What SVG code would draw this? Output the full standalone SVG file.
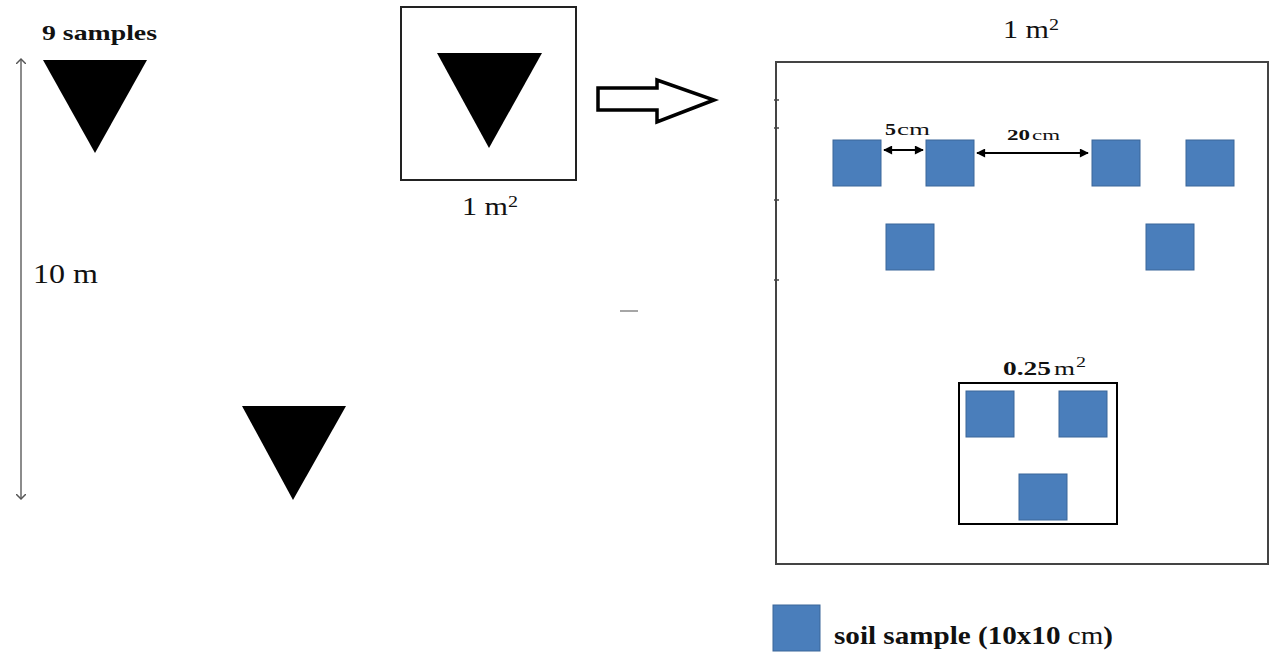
<svg xmlns="http://www.w3.org/2000/svg" width="1279" height="653" viewBox="0 0 1279 653">
<style>
.ser{font-family:"Liberation Serif","Times New Roman",serif;fill:#111}
.b{font-weight:bold}
.sq{fill:#4a7ebb;stroke:#3b6699;stroke-width:1}
.tri{fill:#000}
.box{fill:#fff;stroke:#222;stroke-width:2}
</style>
<defs>
<marker id="open" viewBox="0 0 10 10" refX="5" refY="5" markerWidth="10" markerHeight="10" orient="auto-start-reverse" markerUnits="userSpaceOnUse">
<path d="M0,0 L5,5 L0,10" fill="none" stroke="#555" stroke-width="1.5"/>
</marker>
<marker id="fill" viewBox="0 0 10 10" refX="9" refY="5" markerWidth="10" markerHeight="9" orient="auto-start-reverse" markerUnits="userSpaceOnUse">
<path d="M0,0 L10,5 L0,10 Z" fill="#000"/>
</marker>
</defs>
<rect width="1279" height="653" fill="#fff"/>

<g id="left-scale">
<line x1="21" y1="59" x2="21" y2="499" stroke="#666" stroke-width="1.5" marker-start="url(#open)" marker-end="url(#open)"/>
<text class="ser" x="33" y="283" font-size="28" textLength="65" lengthAdjust="spacingAndGlyphs">10 m</text>
</g>
<g id="samples-label"><text class="ser b" x="42" y="40" font-size="22" textLength="115" lengthAdjust="spacingAndGlyphs">9 samples</text></g>
<g id="triangle-1"><polygon class="tri" points="43,60 147,60 95,153"/></g>
<g id="triangle-2"><polygon class="tri" points="242,406 346,406 293,500"/></g>

<g id="plot-small">
<rect class="box" x="401" y="7" width="175" height="173"/>
<polygon class="tri" points="437,53 542,53 489,148"/>
<text class="ser" x="462" y="215" font-size="25" textLength="46" lengthAdjust="spacingAndGlyphs">1 m</text>
<text class="ser" x="508" y="207" font-size="16" textLength="10" lengthAdjust="spacingAndGlyphs">2</text>
</g>

<g id="block-arrow">
<polygon points="598,88 657,88 657,80 714,100 657,122 657,110 598,110" fill="#fff" stroke="#000" stroke-width="3.5" stroke-linejoin="miter"/>
</g>

<g id="dash"><line x1="620" y1="311" x2="638" y2="311" stroke="#888" stroke-width="1.5"/></g>

<g id="plot-large">
<rect x="776" y="62" width="492" height="502" fill="#fff" stroke="#444" stroke-width="2"/>
<g stroke="#444" stroke-width="1.5">
<line x1="774" y1="100" x2="779" y2="100"/>
<line x1="774" y1="128" x2="779" y2="128"/>
<line x1="774" y1="200" x2="779" y2="200"/>
<line x1="774" y1="280" x2="779" y2="280"/>
</g>
<text class="ser" x="1003" y="38" font-size="25" textLength="46" lengthAdjust="spacingAndGlyphs">1 m</text>
<text class="ser" x="1049" y="30" font-size="16" textLength="10" lengthAdjust="spacingAndGlyphs">2</text>
</g>

<g id="samples-row1">
<rect class="sq" x="833" y="140" width="48" height="46"/>
<rect class="sq" x="926" y="140" width="48" height="46"/>
<rect class="sq" x="1092" y="140" width="48" height="46"/>
<rect class="sq" x="1186" y="140" width="48" height="46"/>
</g>
<g id="samples-row2">
<rect class="sq" x="886" y="224" width="48" height="46"/>
<rect class="sq" x="1146" y="224" width="48" height="46"/>
</g>

<g id="subplot">
<rect x="959" y="383" width="158" height="141" fill="none" stroke="#000" stroke-width="2"/>
<rect class="sq" x="966" y="391" width="48" height="46"/>
<rect class="sq" x="1059" y="391" width="48" height="46"/>
<rect class="sq" x="1019" y="474" width="48" height="46"/>
<text class="ser b" x="1003" y="375" font-size="19" textLength="48" lengthAdjust="spacingAndGlyphs">0.25</text>
<text class="ser" x="1054" y="375" font-size="19" textLength="21" lengthAdjust="spacingAndGlyphs">m</text>
<text class="ser" x="1076" y="367" font-size="14" textLength="10" lengthAdjust="spacingAndGlyphs">2</text>
</g>

<g id="connectors">
<line x1="884" y1="150" x2="923" y2="150" stroke="#000" stroke-width="2" marker-start="url(#fill)" marker-end="url(#fill)"/>
<line x1="977" y1="153" x2="1088" y2="153" stroke="#000" stroke-width="2" marker-start="url(#fill)" marker-end="url(#fill)"/>
</g>
<g id="dim-labels">
<text class="ser b" x="885" y="135" font-size="17" textLength="11" lengthAdjust="spacingAndGlyphs">5</text>
<text class="ser" x="897" y="135" font-size="17" textLength="33" lengthAdjust="spacingAndGlyphs">cm</text>
<text class="ser b" x="1007" y="140" font-size="15" textLength="23" lengthAdjust="spacingAndGlyphs">20</text>
<text class="ser" x="1032" y="140" font-size="15" textLength="28" lengthAdjust="spacingAndGlyphs">cm</text>
</g>

<g id="legend">
<rect class="sq" x="773" y="605" width="47" height="46"/>
<text class="ser b" x="834" y="644" font-size="25" textLength="279" lengthAdjust="spacingAndGlyphs">soil sample (10x10<tspan font-weight="normal"> cm</tspan>)</text>
</g>
</svg>
